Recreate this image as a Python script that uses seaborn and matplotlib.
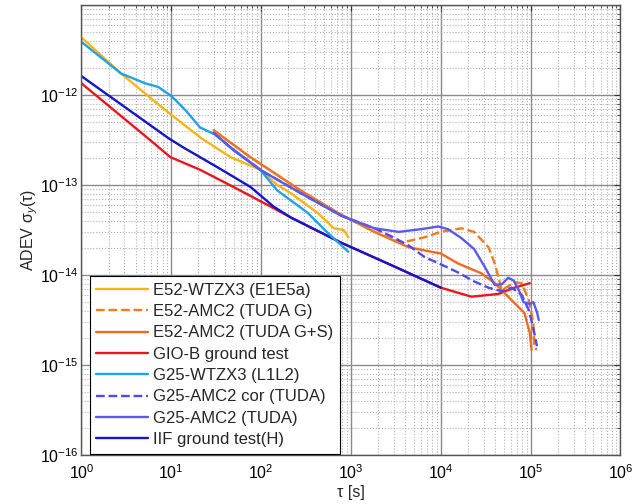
import numpy as np
import pandas as pd
import matplotlib
matplotlib.use("Agg")
import matplotlib.pyplot as plt
import seaborn as sns
from matplotlib.ticker import LogLocator, NullFormatter, FixedLocator, FixedFormatter

# ---- data (log10 tau, log10 ADEV) ----
e52_wtzx3_x = [0.0, 0.44, 0.765, 1.0, 1.335, 1.66, 1.99, 2.18, 2.33, 2.63, 2.81, 2.92, 2.97]
e52_wtzx3_y = [-11.36, -11.76, -12.03, -12.22, -12.48, -12.69, -12.83, -13.0, -13.09, -13.31, -13.48, -13.50, -13.58]

e52_amc2_gs_x = [1.47, 1.88, 2.44, 2.89, 3.26, 3.64, 3.89, 4.0, 4.19, 4.45, 4.60, 4.75, 4.93, 4.99, 5.01]
e52_amc2_gs_y = [-12.39, -12.69, -13.06, -13.33, -13.52, -13.69, -13.74, -13.76, -13.87, -13.98, -14.09, -14.24, -14.42, -14.64, -14.83]

e52_amc2_g_x = [1.47, 1.88, 2.44, 2.89, 3.26, 3.56, 3.82, 4.0, 4.23, 4.37, 4.53, 4.60, 4.68, 4.82, 4.90, 4.98, 5.03, 5.04, 5.07]
e52_amc2_g_y = [-12.39, -12.69, -13.06, -13.33, -13.52, -13.64, -13.58, -13.52, -13.48, -13.52, -13.69, -13.87, -14.17, -14.08, -14.09, -14.28, -14.53, -14.80, -14.83]

giob_x = [0.0, 0.74, 0.99, 1.32, 1.69, 2.07, 2.33, 2.89, 3.45, 4.0, 4.34, 4.64, 4.82, 4.99]
giob_y = [-11.87, -12.48, -12.69, -12.83, -13.02, -13.22, -13.36, -13.64, -13.89, -14.14, -14.24, -14.21, -14.14, -14.09]

g25_wtzx3_x = [0.0, 0.44, 0.71, 0.855, 1.0, 1.16, 1.32, 1.49, 1.66, 1.99, 2.18, 2.33, 2.52, 2.74, 2.97]
g25_wtzx3_y = [-11.41, -11.76, -11.87, -11.91, -12.01, -12.17, -12.36, -12.44, -12.58, -12.83, -13.06, -13.17, -13.31, -13.53, -13.74]

g25_amc2_cor_x = [1.47, 1.69, 1.99, 2.44, 2.89, 3.26, 3.45, 3.64, 3.82, 4.0, 4.19, 4.37, 4.53, 4.68, 4.79, 4.90, 4.98, 5.03, 5.07]
g25_amc2_cor_y = [-12.42, -12.61, -12.83, -13.09, -13.34, -13.48, -13.57, -13.67, -13.80, -13.88, -13.97, -14.07, -14.14, -14.18, -14.14, -14.22, -14.39, -14.59, -14.79]

g25_amc2_x = [1.47, 1.69, 1.99, 2.44, 2.89, 3.26, 3.53, 3.78, 3.97, 4.08, 4.23, 4.37, 4.49, 4.60, 4.68, 4.75, 4.81, 4.87, 4.92, 4.99, 5.03, 5.07, 5.09]
g25_amc2_y = [-12.42, -12.61, -12.83, -13.09, -13.34, -13.48, -13.52, -13.49, -13.46, -13.49, -13.59, -13.71, -13.91, -14.11, -14.10, -14.03, -14.06, -14.17, -14.30, -14.32, -14.30, -14.41, -14.50]

iif_x = [0.0, 0.97, 1.13, 1.51, 1.88, 2.14, 2.33, 2.89, 3.45, 4.0]
iif_y = [-11.79, -12.48, -12.58, -12.80, -13.02, -13.24, -13.36, -13.64, -13.89, -14.14]

y_tick_exps = [-16, -15, -14, -13, -12, -11]
y_tick_labels = ["$10^{-16}$", "$10^{-15}$", "$10^{-14}$", "$10^{-13}$", "$10^{-12}$", ""]

series = [
    ("E52-WTZX3 (E1E5a)", e52_wtzx3_x, e52_wtzx3_y, "#FBB416", "-"),
    ("E52-AMC2 (TUDA G)", e52_amc2_g_x, e52_amc2_g_y, "#F47A20", "--"),
    ("E52-AMC2 (TUDA G+S)", e52_amc2_gs_x, e52_amc2_gs_y, "#F26A21", "-"),
    ("GIO-B ground test", giob_x, giob_y, "#E8161E", "-"),
    ("G25-WTZX3 (L1L2)", g25_wtzx3_x, g25_wtzx3_y, "#1EA3EA", "-"),
    ("G25-AMC2 cor (TUDA)", g25_amc2_cor_x, g25_amc2_cor_y, "#4B4BF0", "--"),
    ("G25-AMC2 (TUDA)", g25_amc2_x, g25_amc2_y, "#5A5AEE", "-"),
    ("IIF ground test(H)", iif_x, iif_y, "#1414C8", "-"),
]

sns.set_style("white")
plt.rcParams['font.family'] = ['Liberation Sans', 'DejaVu Sans']
plt.rcParams['mathtext.fontset'] = 'custom'
plt.rcParams['mathtext.rm'] = 'Liberation Sans'
plt.rcParams['mathtext.it'] = 'Liberation Sans:italic'

fig = plt.figure(figsize=(6.44, 5.04), dpi=100)
ax = fig.add_axes([0.1265, 0.097, 0.837, 0.893])

draw_order = [3, 7, 0, 4, 2, 1, 5, 6]
for i in draw_order:
    name, xs, ys, col, ls = series[i]
    df = pd.DataFrame({"tau": 10 ** np.array(xs), "adev": 10 ** np.array(ys)})
    sns.lineplot(data=df, x="tau", y="adev", ax=ax, color=col, linestyle=ls,
                 linewidth=1.7, sort=False, estimator=None, label=name)

ax.set_xscale("log")
ax.set_yscale("log")
ax.set_xlim(1, 1e6)

ax.xaxis.set_major_locator(LogLocator(base=10, numticks=10))
ax.yaxis.set_major_locator(FixedLocator([10.0 ** e for e in y_tick_exps]))
ax.yaxis.set_major_formatter(FixedFormatter(y_tick_labels))
ax.xaxis.set_minor_locator(LogLocator(base=10, subs=np.arange(2, 10), numticks=20))
ax.yaxis.set_minor_locator(LogLocator(base=10, subs=np.arange(2, 10), numticks=20))
ax.xaxis.set_minor_formatter(NullFormatter())
ax.yaxis.set_minor_formatter(NullFormatter())
ax.set_ylim(1e-16, 1e-11)

ax.grid(True, which="major", color="#8a8a8a", linestyle="-", linewidth=1.0)
ax.grid(True, which="minor", color="#b0b0b0", linestyle=":", linewidth=0.8)
ax.set_axisbelow(True)

ax.tick_params(which="both", direction="in", top=True, right=True, colors="#333333", labelcolor="black")
ax.tick_params(which="major", length=4, labelsize=11.5)
ax.tick_params(axis="x", which="major", pad=6)
ax.tick_params(axis="y", which="major", pad=2)
ax.tick_params(which="minor", length=2)
for s in ax.spines.values():
    s.set_color("#555555")
    s.set_linewidth(1.0)

ax.set_xlabel("τ [s]", fontsize=11.5, labelpad=2)
ax.set_ylabel("ADEV σ$_y$(τ)", fontsize=11.5)
ax.yaxis.set_label_coords(-0.077, 0.5)

h, l = ax.get_legend_handles_labels()
lut = dict(zip(l, h))
names = [s[0] for s in series]
leg = ax.legend([lut[n] for n in names], names, loc="lower left",
                bbox_to_anchor=(0.015, 0.003), fontsize=12, frameon=True,
                fancybox=False, edgecolor="black", framealpha=1,
                handlelength=3.1, handletextpad=0.3, labelspacing=0.38,
                borderpad=0.4, borderaxespad=0.0)
leg.get_frame().set_linewidth(0.8)

fig.savefig("out.png", dpi=100)
